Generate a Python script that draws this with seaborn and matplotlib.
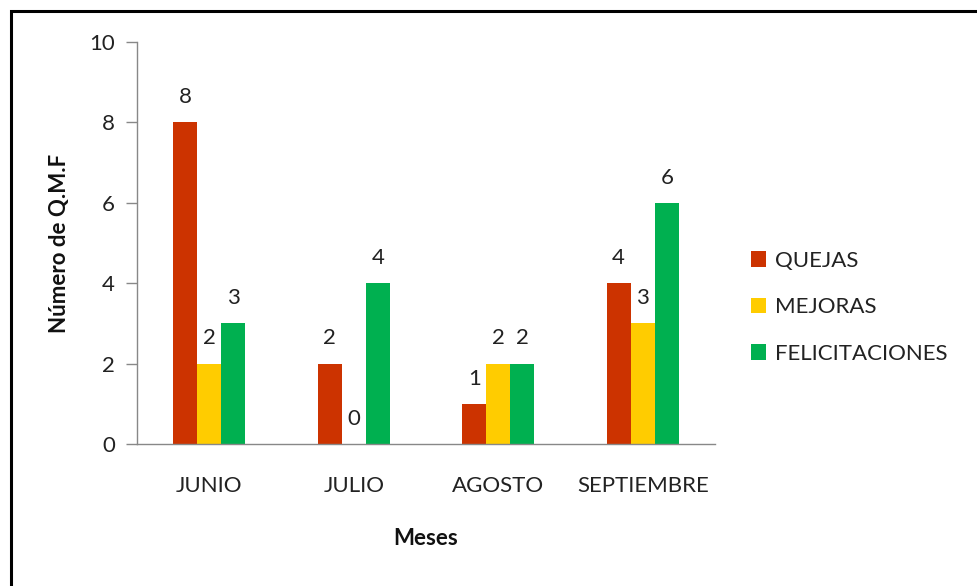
import matplotlib
matplotlib.use("Agg")
import matplotlib.pyplot as plt
import seaborn as sns
import pandas as pd
from matplotlib.patches import Rectangle

meses = ["JUNIO", "JULIO", "AGOSTO", "SEPTIEMBRE"]
series = ["QUEJAS", "MEJORAS", "FELICITACIONES"]
quejas = [8, 2, 1, 4]
mejoras = [2, 0, 2, 3]
felicitaciones = [3, 4, 2, 6]
colores = ["#CC3300", "#FFCC00", "#00B050"]

rows = []
for s, vals in zip(series, [quejas, mejoras, felicitaciones]):
    for m, v in zip(meses, vals):
        rows.append({"Mes": m, "Serie": s, "Valor": v})
df = pd.DataFrame(rows)

sns.set_theme(style="white")
plt.rcParams["font.family"] = ["Lato", "DejaVu Sans"]

FS = 16
fig = plt.figure(figsize=(9.78, 5.86), dpi=100)
ax = fig.add_axes([137/978, 1-444/586, (715-137)/978, (444-42)/586])

sns.barplot(data=df, x="Mes", y="Valor", hue="Serie", palette=colores,
            width=0.5, ax=ax, saturation=1, legend=True, linewidth=0)

ax.set_ylim(0, 10)
ax.set_xlim(-0.5, 3.5)
ax.set_yticks([0, 2, 4, 6, 8, 10])
ax.tick_params(axis="y", labelsize=FS, colors="#222222", length=8, width=1, left=True, color="#888888", pad=8)
ax.tick_params(axis="x", labelsize=FS, colors="#222222", length=0, pad=23)
for lab in ax.get_yticklabels() + ax.get_xticklabels():
    lab.set_color("#222222")
for sp in ["top", "right"]:
    ax.spines[sp].set_visible(False)
for sp in ["left", "bottom"]:
    ax.spines[sp].set_color("#888888")
    ax.spines[sp].set_linewidth(1)

for cont in ax.containers:
    ax.bar_label(cont, labels=[f"{int(v)}" for v in cont.datavalues], padding=11, fontsize=FS, color="#222222")

ax.set_xlabel("Meses", fontsize=FS, fontweight="bold", labelpad=23, color="#111111")
ax.set_ylabel("Número de Q.M.F", fontsize=FS, fontweight="bold", labelpad=14, color="#111111")

leg = ax.legend(loc="center left", bbox_to_anchor=(1.027, 0.34), frameon=False,
                fontsize=FS, handlelength=0.7, handleheight=0.7, labelspacing=1.2,
                handletextpad=0.4, title=None)
for t in leg.get_texts():
    t.set_color("#222222")

fig.patches.append(Rectangle((11/978, -0.1), 1.2, 1 - 11/586 + 0.1, transform=fig.transFigure,
                             fill=False, edgecolor="black", linewidth=2.2, zorder=10))

fig.savefig("out.png", dpi=100)
